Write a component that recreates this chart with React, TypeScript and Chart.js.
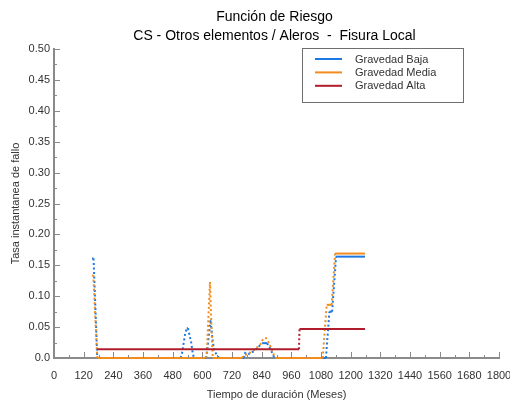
import React, { useEffect, useRef } from "react";
import { Chart, registerables } from "chart.js";

Chart.register(...registerables);

const titleLines = ["Función de Riesgo", "CS - Otros elementos / Aleros  -  Fisura Local"];
const xAxisTitle = "Tiempo de duración (Meses)";
const yAxisTitle = "Tasa instantanea de fallo";
const seriesNames = ["Gravedad Baja", "Gravedad Media", "Gravedad Alta"];
const seriesColors = ["#1c78e4", "#f28c1c", "#b01c2c"];

const xMax = 1800;
const xLabelStep = 120;
const xMinorStep = 60;
const yMax = 0.5;
const yLabelStep = 0.05;
const yMinorStep = 0.025;

// Gravedad Baja
const bajaMonths = [154, 160, 175, 512, 518, 530, 537, 542, 555, 561, 566, 615, 622, 633, 641, 648, 660, 668, 768, 773, 785, 793, 805, 822, 842, 862, 875, 886, 892, 1100, 1114, 1125, 1141, 1258];
const bajaRate = [0.161, 0.161, 0, 0, 0.008, 0.038, 0.048, 0.048, 0.025, 0.008, 0, 0, 0.02, 0.062, 0.03, 0.012, 0.004, 0, 0, 0.008, 0.005, 0.009, 0.01, 0.016, 0.024, 0.024, 0.015, 0.005, 0, 0, 0.075, 0.075, 0.164, 0.164];

// Gravedad Media
const mediaMonths = [155, 159, 175, 612, 618, 625, 631, 636, 642, 760, 768, 790, 813, 835, 846, 858, 870, 884, 894, 1087, 1103, 1123, 1137, 1258];
const mediaRate = [0.134, 0.134, 0, 0, 0.005, 0.07, 0.123, 0.06, 0, 0, 0.004, 0.008, 0.014, 0.022, 0.031, 0.032, 0.024, 0.01, 0, 0, 0.086, 0.086, 0.169, 0.169];

// Gravedad Alta
const altaMonths = [175, 991, 993, 1258];
const altaRate = [0.014, 0.014, 0.047, 0.047];

const FONT = "'Liberation Sans', Arial, sans-serif";
const AXIS_GRAY = "#8a8a8a";

const toPoints = (xs: number[], ys: number[]) => xs.map((x, i) => ({ x, y: ys[i] }));

const decorPlugin = {
  id: "decor",
  afterDraw(chart: any) {
    const ctx = chart.ctx;
    const area = chart.chartArea;
    const xs = chart.scales.x;
    const ys = chart.scales.y;
    ctx.save();
    // inside tick marks
    ctx.strokeStyle = AXIS_GRAY;
    ctx.lineWidth = 1;
    for (let i = 0; i * xMinorStep <= xMax; i++) {
      const v = i * xMinorStep;
      const px = Math.round(xs.getPixelForValue(v)) + 0.5;
      const len = i % 2 === 0 ? 6 : 3;
      ctx.beginPath();
      ctx.moveTo(px, area.bottom);
      ctx.lineTo(px, area.bottom - len);
      ctx.stroke();
    }
    for (let i = 0; i * yMinorStep <= yMax + 1e-9; i++) {
      const v = i * yMinorStep;
      const py = Math.round(ys.getPixelForValue(v)) + 0.5;
      const len = i % 2 === 0 ? 6 : 3;
      ctx.beginPath();
      ctx.moveTo(area.left, py);
      ctx.lineTo(area.left + len, py);
      ctx.stroke();
    }
    // title
    const cx = (area.left + area.right) / 2 - 2;
    ctx.fillStyle = "#000";
    ctx.font = "14px " + FONT;
    ctx.textAlign = "center";
    ctx.textBaseline = "middle";
    ctx.fillText(titleLines[0], cx, 17);
    ctx.fillText(titleLines[1], cx, 36);
    // legend
    const bx = 302, by = 48, bw = 161, bh = 54;
    ctx.fillStyle = "#fff";
    ctx.fillRect(bx, by, bw, bh);
    ctx.strokeStyle = "#6e6e6e";
    ctx.lineWidth = 1;
    ctx.strokeRect(bx + 0.5, by + 0.5, bw, bh);
    ctx.font = "11px " + FONT;
    ctx.textAlign = "left";
    chart.data.datasets.forEach((ds: any, i: number) => {
      const ly = 59 + i * 13.4;
      ctx.strokeStyle = ds.borderColor;
      ctx.lineWidth = 2;
      ctx.beginPath();
      ctx.moveTo(315, ly);
      ctx.lineTo(342, ly);
      ctx.stroke();
      ctx.fillStyle = "#333";
      ctx.fillText(ds.label, 355, ly + 0.5);
    });
    ctx.restore();
  },
};

export default function App() {
  const canvasRef = useRef<HTMLCanvasElement | null>(null);

  useEffect(() => {
    const canvas = canvasRef.current;
    if (!canvas) return;
    const dotted = (ctx: any) => (ctx.p0.parsed.y === ctx.p1.parsed.y ? [] : [2, 2.5]);
    const mk = (i: number, xs: number[], ys: number[], order: number) => ({
      label: seriesNames[i],
      data: toPoints(xs, ys),
      borderColor: seriesColors[i],
      backgroundColor: seriesColors[i],
      borderWidth: 2,
      pointRadius: 0,
      tension: 0,
      fill: false,
      clip: false,
      order,
      segment: { borderDash: dotted },
    });
    const chart = new Chart(canvas, {
      type: "line",
      data: {
        datasets: [
          mk(0, bajaMonths, bajaRate, 3),
          mk(1, mediaMonths, mediaRate, 2),
          mk(2, altaMonths, altaRate, 1),
        ],
      },
      options: {
        responsive: false,
        animation: false,
        events: [],
        layout: { padding: { left: 0, right: 11, top: 49, bottom: 0 } },
        plugins: {
          legend: { display: false },
          title: { display: false },
          tooltip: { enabled: false },
        },
        scales: {
          x: {
            type: "linear",
            min: 0,
            max: xMax,
            grid: { display: false, drawTicks: false },
            border: { display: true, color: AXIS_GRAY, width: 2 },
            ticks: {
              stepSize: xLabelStep,
              autoSkip: false,
              maxRotation: 0,
              minRotation: 0,
              padding: 11,
              color: "#333",
              font: { family: FONT, size: 11 },
              callback: (v: any) => String(Math.round(Number(v))),
            },
            title: {
              display: true,
              text: xAxisTitle,
              color: "#333",
              font: { family: FONT, size: 11 },
              padding: { top: 0, bottom: 3 },
            },
            afterFit: (scale: any) => {
              scale.height = 47;
              scale.paddingLeft = 0;
              scale.paddingRight = 0;
            },
          },
          y: {
            type: "linear",
            min: 0,
            max: yMax,
            grid: { display: false, drawTicks: false },
            border: { display: true, color: AXIS_GRAY, width: 2 },
            ticks: {
              stepSize: yLabelStep,
              autoSkip: false,
              padding: 4,
              color: "#333",
              font: { family: FONT, size: 11 },
              callback: (v: any) => (Math.abs(v) < 1e-9 ? "0.0" : Number(v).toFixed(2)),
            },
            title: {
              display: true,
              text: yAxisTitle,
              color: "#333",
              font: { family: FONT, size: 11 },
              padding: { top: 9, bottom: 0 },
            },
            afterFit: (scale: any) => {
              scale.width = 54;
              scale.paddingTop = 0;
              scale.paddingBottom = 0;
            },
          },
        },
      },
      plugins: [decorPlugin],
    });
    return () => chart.destroy();
  }, []);

  return (
    <div style={{ position: "absolute", left: 0, top: 0, width: 510, height: 405, background: "#fff" }}>
      <canvas ref={canvasRef} width={510} height={405} style={{ display: "block" }} />
    </div>
  );
}
